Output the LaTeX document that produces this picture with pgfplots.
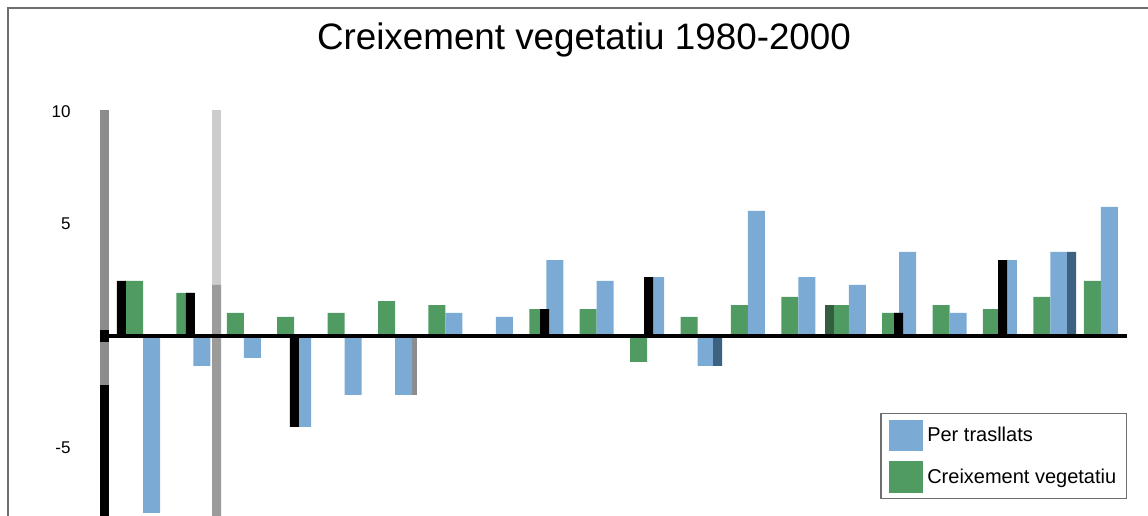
\documentclass[border=0pt]{standalone}
\usepackage{pgfplots}
\pgfplotsset{compat=1.18}
\usepackage{fontspec}
\setmainfont{Liberation Sans}
\definecolor{cblue}{RGB}{123,170,212}
\definecolor{cgreen}{RGB}{79,155,98}
\definecolor{cdblue}{RGB}{61,97,128}
\definecolor{cdgreen}{RGB}{53,94,64}
\definecolor{frame}{RGB}{110,110,110}
\definecolor{axgray}{RGB}{140,140,140}
\definecolor{lgray}{RGB}{204,204,204}
\definecolor{mgray}{RGB}{155,155,155}
\begin{document}
\begin{tikzpicture}[x=1pt,y=1pt]
\useasboundingbox (0,0) rectangle (1148,516);
\draw[frame, line width=2pt] (8,0) -- (8,508) -- (1150,508);
\node[font=\fontsize{36.8}{44}\selectfont] at (584,476) {Creixement vegetatiu 1980-2000};
\begin{axis}[at={(100pt,0pt)}, anchor=south west, scale only axis,
  width=1027pt, height=406pt,
  xmin=-0.853, xmax=19.52, ymin=-8.04, ymax=10.09,
  axis x line=none, axis y line*=left,
  y axis line style={draw=none},
  ytick={-5,5,10}, yticklabels={-5,5,10},
  major tick length=8pt, tick align=inside,
  every tick/.style={axgray, line width=3pt},
  yticklabel style={font=\fontsize{17}{19}\selectfont, xshift=-26pt},
  /pgf/number format/assume math mode=true,
  legend style={at={(1,0.254)}, anchor=north east, draw=frame, line width=1.5pt,
    font=\fontsize{20}{24}\selectfont, inner xsep=8pt, inner ysep=6pt, row sep=10pt},
  legend cell align=left,
]
% y axis bar
\fill[axgray] (axis cs:-0.853,10.09) rectangle (axis cs:-0.674,-2.2);
\fill[black] (axis cs:-0.853,-2.2) rectangle (axis cs:-0.674,-8.04);
\fill[black] (axis cs:-0.853,0.27) rectangle (axis cs:-0.674,-0.27);
% light gray full-height bar and gray slivers
\addplot[ybar, fill=lgray, draw=none, bar width=9pt, bar shift=0pt, forget plot] coordinates {
(1.458,10.09)};
\addplot[ybar, fill=mgray, draw=none, bar width=9pt, bar shift=0pt, forget plot] coordinates {
(1.458,2.28) (1.458,-8.04)};
\addplot[ybar, fill=axgray, draw=none, bar width=9pt, bar shift=0pt, forget plot] coordinates {
(5.35,-2.63)};
% green series
\addplot[ybar, fill=cgreen, draw=none, bar width=17pt, bar shift=-8.5pt, forget plot] coordinates {
(0,2.46) (1,1.92) (2,1.03) (3,0.85) (4,1.03) (5,1.56) (6,1.38) (7,0) (8,1.2) (9,1.2)
(10,-1.16) (11,0.85) (12,1.38) (13,1.74) (14,1.38) (15,1.03) (16,1.38) (17,1.2) (18,1.74) (19,2.46)};
% blue series
\addplot[ybar, fill=cblue, draw=none, bar width=17pt, bar shift=8.5pt, forget plot] coordinates {
(0,-7.9) (1,-1.34) (2,-0.98) (3,-4.06) (4,-2.63) (5,-2.63) (6,1.03) (7,0.85) (8,3.39) (9,2.46)
(10,2.63) (11,-1.34) (12,5.58) (13,2.63) (14,2.28) (15,3.75) (16,1.03) (17,3.39) (18,3.75) (19,5.76)};
% narrow dark slivers
\addplot[ybar, fill=black, draw=none, bar width=9pt, bar shift=0pt, forget plot] coordinates {
(-0.427,2.46) (0.942,1.92) (3.005,-4.06) (7.965,1.2) (10.03,2.63) (14.99,1.03) (17.05,3.39)};
\addplot[ybar, fill=cdblue, draw=none, bar width=9pt, bar shift=0pt, forget plot] coordinates {
(11.4,-1.34) (18.42,3.75)};
\addplot[ybar, fill=cdgreen, draw=none, bar width=9pt, bar shift=0pt, forget plot] coordinates {
(13.62,1.38)};
\draw[black, line width=3.5pt] (axis cs:-0.674,0) -- (axis cs:19.52,0);
\addlegendimage{legend image code/.code={\fill[cblue] (0pt,-15pt) rectangle (33pt,15pt);}}
\addlegendentry{\hspace{2pt}Per trasllats}
\addlegendimage{legend image code/.code={\fill[cgreen] (0pt,-15pt) rectangle (33pt,15pt);}}
\addlegendentry{\hspace{2pt}Creixement vegetatiu}
\end{axis}
\end{tikzpicture}
\end{document}
